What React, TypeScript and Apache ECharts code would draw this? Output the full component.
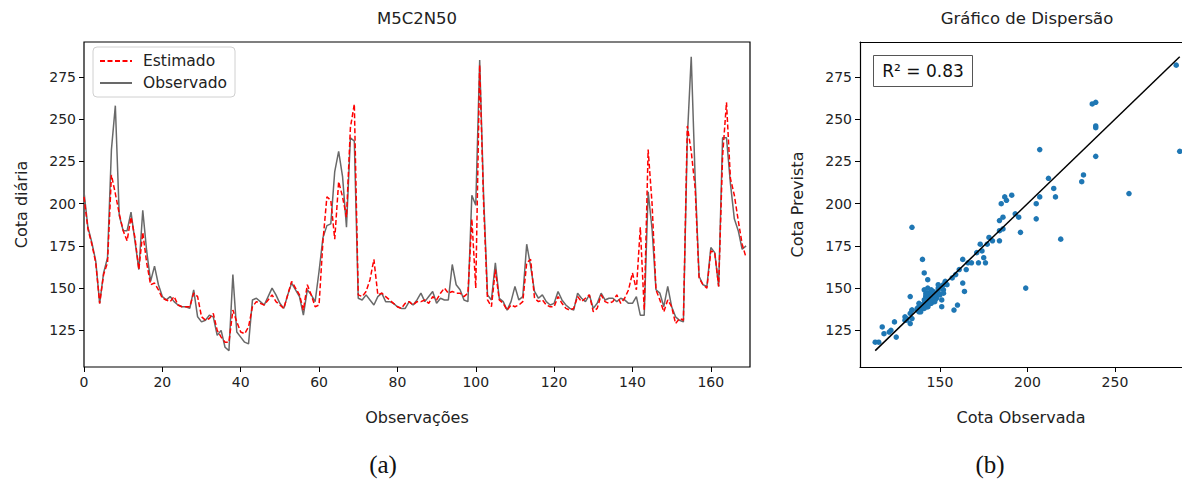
import React, { useEffect, useRef } from "react";
import * as echarts from "echarts";

// Observed series ("Observado"), one value per observation index 0..169
const observado = [
  207, 186, 177, 166, 141, 159, 168, 232, 258, 193,
  184, 184, 195, 178, 161, 196, 172, 154, 163, 152,
  145, 143, 145, 142, 140, 139, 139, 138, 149, 133,
  130, 131, 134, 133, 122, 125, 115, 113, 158, 124,
  121, 118, 117, 143, 144, 142, 140, 145, 150, 146,
  141, 138, 146, 153, 149, 145, 134, 149, 146, 142,
  160, 180, 187, 188, 219, 231, 216, 186, 239, 237,
  144, 143, 146, 143, 140, 145, 147, 142, 142, 141,
  139, 138, 138, 142, 140, 143, 147, 142, 145, 148,
  141, 144, 143, 143, 164, 152, 149, 143, 142, 205,
  199, 285, 205, 146, 143, 165, 144, 142, 137, 142,
  151, 143, 145, 176, 163, 148, 144, 146, 142, 140,
  141, 148, 143, 140, 138, 137, 147, 144, 142, 146,
  138, 141, 147, 143, 144, 144, 142, 144, 143, 141,
  141, 145, 134, 134, 207, 185, 149, 147, 139, 151,
  139, 133, 131, 130, 239, 287, 215, 157, 152, 151,
  174, 171, 151, 239, 239, 212, 191, 184, 173, 175,
];

// Estimated series ("Estimado")
const estimado = [
  204, 185, 176, 165, 141, 158, 165, 217, 206, 194,
  184, 178, 192, 180, 161, 183, 165, 152, 153, 149,
  144, 143, 142, 145, 140, 139, 139, 139, 147, 145,
  133, 131, 132, 135, 125, 121, 118, 118, 137, 130,
  124, 123, 127, 139, 142, 141, 140, 143, 146, 142,
  140, 138, 146, 154, 150, 146, 137, 152, 146, 139,
  140, 178, 204, 202, 179, 213, 204, 192, 245, 259,
  146, 145, 148, 155, 167, 146, 147, 145, 143, 141,
  139, 138, 141, 142, 140, 142, 142, 143, 141, 145,
  143, 147, 150, 147, 148, 147, 147, 145, 147, 191,
  150, 282, 200, 143, 139, 161, 143, 141, 137, 140,
  139, 140, 142, 165, 167, 144, 142, 143, 140, 139,
  139, 145, 141, 138, 137, 138, 145, 142, 144, 146,
  136, 138, 146, 142, 141, 142, 146, 141, 144, 149,
  159, 149, 186, 137, 232, 200, 149, 143, 136, 143,
  139, 129, 132, 131, 246, 231, 209, 156, 152, 150,
  172, 171, 151, 228, 260, 215, 205, 190, 176, 168,
];

const xTicks = [0, 20, 40, 60, 80, 100, 120, 140, 160];
const yTicks = [125, 150, 175, 200, 225, 250, 275];
const scatterXTicks = [150, 200, 250];
const legendNames = ["Estimado", "Observado"];
const r2Label = "R² = 0.83";

const FONT = "DejaVu Sans";

export default function App() {
  const ref = useRef<HTMLDivElement>(null);

  useEffect(() => {
    if (!ref.current) return;
    const chart = echarts.init(ref.current, undefined, { renderer: "svg" });

    const minObs = Math.min(...observado);
    const maxObs = Math.max(...observado);

    const tickCommon = {
      show: true,
      inside: false,
      length: 5,
      lineStyle: { color: "#000", width: 1 },
    };
    const labelCommon = {
      fontSize: 14,
      color: "#222",
      fontFamily: FONT,
      margin: 8,
    };
    const nameStyle = { fontSize: 16, color: "#222", fontFamily: FONT };
    const blackLine = { show: true, onZero: false, lineStyle: { color: "#000", width: 1.2 } };

    const option: any = {
      animation: false,
      textStyle: { fontFamily: FONT },
      grid: [
        { left: 84, top: 42, width: 666, height: 325, show: true, borderColor: "#000", borderWidth: 1.2, containLabel: false },
        { left: 860, top: 42, width: 322, height: 325, show: false, containLabel: false },
      ],
      xAxis: [
        {
          gridIndex: 0,
          type: "value",
          min: 0,
          max: 170,
          axisLine: { show: false },
          splitLine: { show: false },
          axisTick: { ...tickCommon, customValues: xTicks },
          axisLabel: { ...labelCommon, customValues: xTicks },
          name: "Observações",
          nameLocation: "middle",
          nameGap: 42,
          nameTextStyle: nameStyle,
        },
        {
          gridIndex: 1,
          type: "value",
          position: "bottom",
          min: 104.3,
          max: 288.3,
          axisLine: blackLine,
          splitLine: { show: false },
          axisTick: { ...tickCommon, customValues: scatterXTicks },
          axisLabel: { ...labelCommon, customValues: scatterXTicks },
          name: "Cota Observada",
          nameLocation: "middle",
          nameGap: 42,
          nameTextStyle: nameStyle,
        },
        {
          gridIndex: 1,
          type: "value",
          position: "top",
          min: 104.3,
          max: 288.3,
          axisLine: blackLine,
          splitLine: { show: false },
          axisTick: { show: false },
          axisLabel: { show: false },
        },
      ],
      yAxis: [
        {
          gridIndex: 0,
          type: "value",
          min: 103.3,
          max: 295.7,
          axisLine: { show: false },
          splitLine: { show: false },
          axisTick: { ...tickCommon, customValues: yTicks },
          axisLabel: { ...labelCommon, customValues: yTicks },
          name: "Cota diária",
          nameLocation: "middle",
          nameGap: 55,
          nameTextStyle: nameStyle,
        },
        {
          gridIndex: 1,
          type: "value",
          min: 103.3,
          max: 295.7,
          axisLine: blackLine,
          splitLine: { show: false },
          axisTick: { ...tickCommon, customValues: yTicks },
          axisLabel: { ...labelCommon, customValues: yTicks },
          name: "Cota Prevista",
          nameLocation: "middle",
          nameGap: 55,
          nameTextStyle: nameStyle,
        },
      ],
      legend: {
        data: legendNames,
        orient: "vertical",
        left: 93,
        top: 47,
        padding: [6, 8, 6, 6],
        itemWidth: 32,
        itemHeight: 12,
        itemGap: 6,
        itemStyle: { opacity: 0 },
        borderColor: "#d0d0d0",
        borderWidth: 1,
        borderRadius: 4,
        backgroundColor: "rgba(255,255,255,0.85)",
        textStyle: { fontSize: 15.5, color: "#222", fontFamily: FONT, padding: [0, 0, 0, 6] },
      },
      series: [
        {
          type: "line",
          name: "Observado",
          xAxisIndex: 0,
          yAxisIndex: 0,
          data: observado.map((v, i) => [i, v]),
          symbol: "none",
          showSymbol: false,
          lineStyle: { color: "#696969", width: 1.5 },
          itemStyle: { color: "#696969" },
          z: 2,
        },
        {
          type: "line",
          name: "Estimado",
          xAxisIndex: 0,
          yAxisIndex: 0,
          data: estimado.map((v, i) => [i, v]),
          symbol: "none",
          showSymbol: false,
          lineStyle: { color: "#ff0000", width: 1.5, type: [5, 2.5] },
          itemStyle: { color: "#ff0000" },
          z: 3,
        },
        {
          type: "scatter",
          xAxisIndex: 1,
          yAxisIndex: 1,
          data: observado.map((v, i) => [v, estimado[i]]),
          symbolSize: 5.5,
          itemStyle: { color: "#1f77b4", opacity: 1 },
          z: 2,
        },
        {
          type: "line",
          xAxisIndex: 1,
          yAxisIndex: 1,
          data: [
            [minObs, minObs],
            [maxObs, maxObs],
          ],
          symbol: "none",
          lineStyle: { color: "#000", width: 1.5 },
          z: 3,
        },
      ],
      graphic: [
        {
          type: "text",
          x: 417,
          y: 18,
          style: {
            text: "M5C2N50",
            fontSize: 16.5,
            fontFamily: FONT,
            fill: "#222",
            align: "center",
            verticalAlign: "middle",
            textAlign: "center",
            textVerticalAlign: "middle",
          },
        },
        {
          type: "text",
          x: 1027,
          y: 18,
          style: {
            text: "Gráfico de Dispersão",
            fontSize: 16.5,
            fontFamily: FONT,
            fill: "#222",
            align: "center",
            verticalAlign: "middle",
            textAlign: "center",
            textVerticalAlign: "middle",
          },
        },
        {
          type: "rect",
          shape: { x: 873.5, y: 55.5, width: 99, height: 31 },
          style: { fill: "#fff", stroke: "#555", lineWidth: 1 },
          z: 10,
        },
        {
          type: "text",
          x: 923,
          y: 71,
          z: 11,
          style: {
            text: r2Label,
            fontSize: 17,
            fontFamily: FONT,
            fill: "#111",
            align: "center",
            verticalAlign: "middle",
            textAlign: "center",
            textVerticalAlign: "middle",
          },
        },
        {
          type: "text",
          x: 383,
          y: 464,
          style: {
            text: "(a)",
            fontSize: 25,
            fontFamily: "Liberation Serif",
            fill: "#111",
            align: "center",
            verticalAlign: "middle",
            textAlign: "center",
            textVerticalAlign: "middle",
          },
        },
        {
          type: "text",
          x: 990,
          y: 464,
          style: {
            text: "(b)",
            fontSize: 25,
            fontFamily: "Liberation Serif",
            fill: "#111",
            align: "center",
            verticalAlign: "middle",
            textAlign: "center",
            textVerticalAlign: "middle",
          },
        },
      ],
    };

    chart.setOption(option);
    return () => {
      chart.dispose();
    };
  }, []);

  return (
    <div
      ref={ref}
      style={{ position: "fixed", left: 0, top: 0, width: 1182, height: 479, background: "#fff" }}
    />
  );
}
